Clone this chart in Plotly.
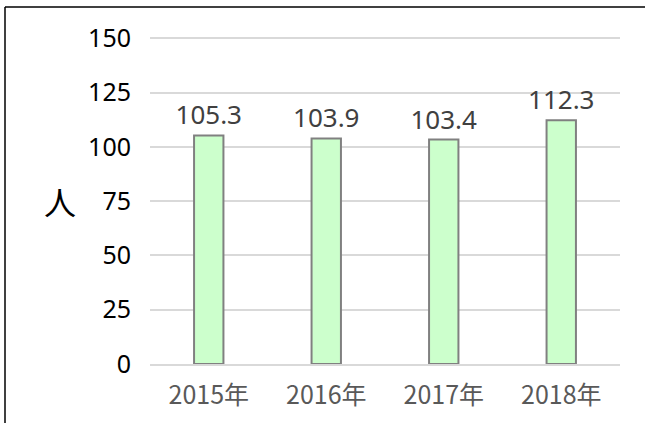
import plotly.graph_objects as go

categories = ["2015年", "2016年", "2017年", "2018年"]
values = [105.3, 103.9, 103.4, 112.3]
y_ticks = [0, 25, 50, 75, 100, 125, 150]

NUM_FONT = "Noto Sans, sans-serif"

fig = go.Figure()
fig.add_trace(go.Bar(
    x=categories, y=values,
    width=0.25,
    marker=dict(color="#CCFFCC", line=dict(color="#808080", width=2)),
    text=[f"{v:.1f}" for v in values],
    textposition="outside",
    constraintext="none",
    textfont=dict(size=26, color="#404040", family=NUM_FONT),
    cliponaxis=False,
    hoverinfo="skip",
))

fx0 = -145 / 470
fy1 = (423 - 7 - 59) / 330
frame = dict(color="black", width=1.5)

fig.update_layout(
    width=645, height=423,
    margin=dict(l=150, r=25, t=34, b=59),
    plot_bgcolor="white", paper_bgcolor="white",
    showlegend=False,
    font=dict(family="Noto Sans CJK JP"),
    xaxis=dict(
        tickfont=dict(size=25, color="#595959", family="Noto Sans CJK JP"),
        showline=True, linecolor="#D9D9D9", linewidth=2,
        ticks="", showgrid=False,
        ticklabelstandoff=8,
    ),
    yaxis=dict(
        range=[0, 152], tickvals=y_ticks,
        tickfont=dict(size=25, color="black", family=NUM_FONT),
        showgrid=True, gridcolor="#D9D9D9", gridwidth=2,
        zeroline=False, showline=False, ticks="",
        ticklabelstandoff=18,
    ),
    shapes=[
        dict(type="line", xref="paper", yref="paper", x0=fx0, x1=1.2,
             y0=fy1, y1=fy1, line=frame, layer="above"),
        dict(type="line", xref="paper", yref="paper", x0=fx0, x1=fx0,
             y0=-0.5, y1=fy1, line=frame, layer="above"),
    ],
    annotations=[dict(text="人", xref="paper", yref="y", x=-90/470, y=75,
                      showarrow=False, font=dict(size=32, color="black",
                                                 family="Noto Sans CJK JP"),
                      xanchor="center", yanchor="middle")],
)

fig.write_html(
    "out.html", config={"displayModeBar": False},
    post_script=("document.body.style.margin='0';"
                 "document.body.style.overflow='hidden';"
                 "document.documentElement.style.overflow='hidden';"),
)
